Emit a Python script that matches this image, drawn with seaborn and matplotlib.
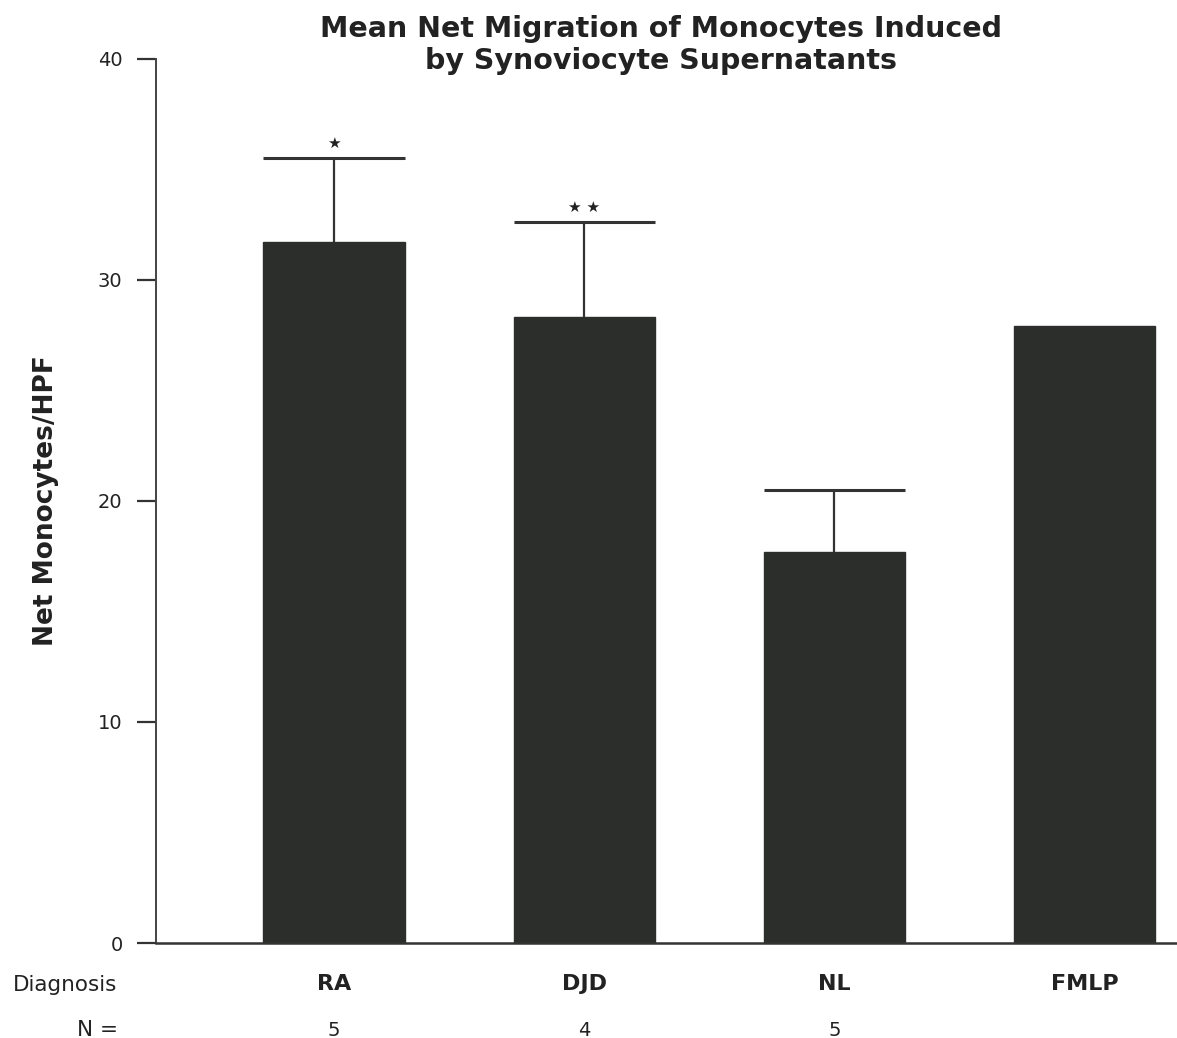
import pandas as pd
import matplotlib.pyplot as plt
import matplotlib.transforms as mtransforms
import seaborn as sns

# values
diagnosis = ['RA', 'DJD', 'NL', 'FMLP']
n_values = ['5', '4', '5', '']
mean_migration = [31.7, 28.3, 17.7, 27.9]
upper_error = [3.8, 4.3, 2.8, None]
significance = ['\u2605', '\u2605 \u2605', '', '']
y_ticks = [0, 10, 20, 30, 40]

df = pd.DataFrame({'Diagnosis': diagnosis, 'Net': mean_migration})

sns.set_theme(style='white')
plt.rcParams['font.family'] = ['DejaVu Sans']

fig = plt.figure(figsize=(11.77, 10.38), dpi=100)
ax = fig.add_axes([0.1325, 0.0915, 0.8675, 0.852])

bar_w = 0.565
bar_color = '#2b2e2b'
sns.barplot(data=df, x='Diagnosis', y='Net', color=bar_color, width=bar_w,
            saturation=1, errorbar=None, ax=ax, edgecolor=bar_color)

# one-sided error bars, cap as wide as the bar
for i, (m, e) in enumerate(zip(mean_migration, upper_error)):
    if e is None:
        continue
    top = m + e
    ax.vlines(i, m, top, color='#333333', lw=1.6, zorder=3)
    ax.hlines(top, i - bar_w / 2, i + bar_w / 2, color='#333333', lw=2.2, zorder=3)
    if significance[i]:
        ax.annotate(significance[i], (i, top), xytext=(0, 5), textcoords='offset points',
                    ha='center', va='bottom', fontsize=11, color='#222222')

ax.set_ylim(0, 40)
ax.set_xlim(-0.712, 3.37)
ax.set_yticks(y_ticks)
ax.set_yticklabels([str(t) for t in y_ticks], fontsize=14, color='#222222')
ax.tick_params(axis='y', direction='out', length=14, width=1.6, color='#333333',
               pad=10, left=True)
ax.tick_params(axis='x', length=0, pad=22)
ax.set_xticks(range(len(diagnosis)))
ax.set_xticklabels(diagnosis, fontsize=16, fontweight='bold', color='#222222')
ax.set_xlabel('')
ax.set_ylabel('Net Monocytes/HPF', fontsize=19, fontweight='bold', color='#222222',
              labelpad=28)

sns.despine(ax=ax)
ax.spines['left'].set_color('#444444')
ax.spines['left'].set_linewidth(1.4)
ax.spines['bottom'].set_color('#333333')
ax.spines['bottom'].set_linewidth(1.8)

# row labels below the axis
trans = mtransforms.blended_transform_factory(ax.transData, fig.transFigure)
fig.text(0.1, 1 - 985 / 1038, 'Diagnosis', ha='right', va='center', fontsize=15.5,
         color='#222222')
fig.text(0.1, 1 - 1030 / 1038, 'N =', ha='right', va='center', fontsize=15.5,
         color='#222222')
for i, n in enumerate(n_values):
    ax.text(i, 1 - 1030 / 1038, n, transform=trans, ha='center', va='center',
            fontsize=14, color='#222222')

fig.text(0.562, 1 - 45 / 1038,
         'Mean Net Migration of Monocytes Induced\nby Synoviocyte Supernatants',
         ha='center', va='center', fontsize=20.5, fontweight='bold', color='#222222',
         linespacing=1.15)

fig.savefig('out.png', dpi=100)
